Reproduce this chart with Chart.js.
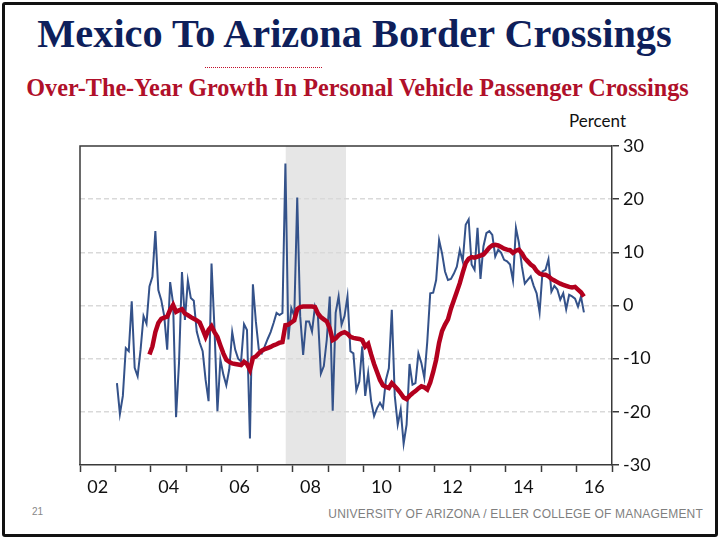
<!DOCTYPE html>
<html>
<head>
<meta charset="utf-8">
<script src="https://cdn.jsdelivr.net/npm/chart.js@4.4.1/dist/chart.umd.min.js"></script>
<style>
  body { margin: 0; background: #fff; }
  #slide { position: relative; width: 719px; height: 539px; overflow: hidden; background: #fff; }
  #frame { position: absolute; left: 2px; top: 2px; width: 710px; height: 529px; border: 3px solid #111; border-radius: 3px; }
  #title { position: absolute; left: -5px; width: 719px; top: 10px; text-align: center;
    font-family: "Liberation Serif", serif; font-weight: bold; font-size: 40.3px; color: #0e1f5b; }
  #rule { position: absolute; left: 205px; top: 67px; width: 117px; border-top: 1.5px dotted #c0102c; }
  #subtitle { position: absolute; left: -2px; width: 719px; top: 74px; text-align: center;
    font-family: "Liberation Serif", serif; font-weight: bold; font-size: 24.2px; color: #b0102a; }
  #unit { position: absolute; left: 569px; top: 110px; font-family: Lato, sans-serif; font-size: 17px; color: #111; }
  #page { position: absolute; left: 32px; top: 506px; font-family: "Liberation Sans", sans-serif; font-size: 10px; color: #888; }
  #footer { position: absolute; right: 16px; top: 507px; font-family: "Liberation Sans", sans-serif; font-size: 12px;
    letter-spacing: 0.2px; color: #7f7f7f; }
  #box { position: absolute; left: 0; top: 120px; }
</style>
</head>
<body>
<div id="slide">
  <div id="frame"></div>
  <div id="title">Mexico To Arizona Border Crossings</div>
  <div id="rule"></div>
  <div id="subtitle">Over-The-Year Growth In Personal Vehicle Passenger Crossings</div>
  <div id="unit">Percent</div>
  <div id="box"><canvas id="grafico" width="719" height="385"></canvas></div>
  <div id="page">21</div>
  <div id="footer">UNIVERSITY OF ARIZONA / ELLER COLLEGE OF MANAGEMENT</div>
</div>
<script>
// monthly data, first value = Jan 2003
const startYear = 2003;

// over-the-year growth, monthly (percent)
const blueValues = [
  -14.6, -20.4, -17.0, -8.0, -8.6, 0.8, -11.7, -13.3, -8.3, -2.0, -3.4, 3.6,
  5.4, 14.0, 2.9, 1.0, -2.0, -8.3, 4.4, 0.4, -21.0, -10.8, 6.3, -2.7,
  4.7, 1.4, 0.9, -4.9, -7.0, -8.6, -14.0, -18.0, 7.9, -4.3, -19.9, -10.2,
  -13.0, -15.0, -12.0, -5.0, -8.3, -10.0, -10.5, -3.5, -4.6, -25.0, 4.0, -3.0,
  -8.3, -9.0, -7.7, -6.3, -5.0, -3.3, -1.4, -1.8, -1.4, 26.7, -6.4, -0.5,
  -2.0, 20.3, -2.0, -9.3, -3.0, -3.0, -4.9, -0.2, -2.0, -12.8, -11.4, -6.4,
  1.7, -19.8, -1.4, 1.7, -3.6, -2.0, 1.7, -8.6, -9.0, -16.0, -14.3, -7.7,
  -17.0, -12.7, -18.0, -20.8, -19.3, -18.3, -19.3, -14.0, -11.8, -0.8, -17.0, -22.4,
  -19.6, -26.0, -22.4, -11.0, -14.9, -14.6, -9.0, -10.8, -13.6, -6.8, 2.3, 2.4,
  4.8, 12.3, 9.8, 6.4, 4.8, 5.0, 6.0, 7.3, 10.4, 8.3, 15.2, 16.2,
  7.7, 6.7, 14.6, 5.0, 11.1, 13.6, 14.0, 13.3, 9.2, 10.5, 9.9, 8.6,
  8.3, 7.7, 4.7, 14.6, 11.8, 7.4, 4.1, 4.8, 5.5, 3.7, 2.3, -1.3,
  6.4, 6.7, 8.7, 2.6, 3.7, 3.0, 1.1, 2.3, -0.7, 2.0, 1.7, 1.3,
  -0.2, 1.7, -1.3
];

// 12-month moving average, starts Dec 2003
const redStart = 11;
const redValues = [
  -9.2,
  -7.7, -5.0, -3.3, -2.5, -2.3, -2.1, -0.8, 0.1, -1.2, -0.9, -0.7, -1.5,
  -1.8, -2.2, -2.5, -2.8, -3.2, -4.5, -5.9, -4.6, -3.9, -5.0, -5.9, -7.5,
  -9.0, -10.2, -10.6, -10.9, -11.0, -11.1, -11.2, -10.6, -11.0, -12.1, -9.9, -9.6,
  -9.0, -8.5, -8.2, -8.0, -7.8, -7.5, -7.3, -7.0, -6.9, -3.7, -3.6, -3.2,
  -2.8, -0.7, -0.3, -0.2, -0.2, -0.2, -0.2, -0.3, -1.5, -2.2, -2.6, -3.0,
  -4.3, -6.5, -6.2, -5.6, -5.2, -5.0, -5.3, -5.9, -6.1, -6.2, -6.3, -6.5,
  -7.7, -7.2, -9.2, -11.0, -12.5, -14.0, -15.0, -15.3, -15.5, -14.6, -15.2, -15.8,
  -16.5, -17.3, -17.6, -17.0, -16.5, -16.1, -15.6, -15.2, -15.4, -15.8, -14.5, -12.5,
  -10.2, -7.0, -4.8, -3.6, -2.6, -0.6, 1.0, 2.6, 4.2, 6.2, 8.0, 8.8,
  9.1, 9.0, 9.2, 9.4, 9.6, 10.2, 10.9, 11.3, 11.4, 11.3, 11.0, 10.7,
  10.5, 10.4, 9.9, 10.3, 10.5, 9.8, 8.9, 8.3, 7.7, 7.3, 6.5, 6.0,
  5.8, 5.8, 5.5, 5.0, 4.7, 4.4, 4.1, 3.9, 3.7, 3.5, 3.4, 3.5,
  3.0, 2.5, 1.7
];

// x axis labels (centred on the even years)
const labelYears = [2002, 2004, 2006, 2008, 2010, 2012, 2014, 2016];
const yearLabels = ['02', '04', '06', '08', '10', '12', '14', '16'];

// recession band (Dec 2007 - Jun 2009)
const recession = [2007.8, 2009.5];

const blueData = blueValues.map((v, i) => ({ x: startYear + (i + 0.5) / 12, y: v }));
const redData = redValues.map((v, j) => ({ x: startYear + (j + redStart + 0.5) / 12, y: v }));

// shading + left/top frame lines
const moldura = {
  id: 'moldura',
  beforeDraw(chart) {
    const { ctx, chartArea: a, scales } = chart;
    const x1 = scales.x.getPixelForValue(recession[0]);
    const x2 = scales.x.getPixelForValue(recession[1]);
    ctx.save();
    ctx.fillStyle = '#e6e6e6';
    ctx.fillRect(x1, a.top, x2 - x1, a.bottom - a.top);
    ctx.restore();
  },
  afterDraw(chart) {
    const { ctx, chartArea: a } = chart;
    ctx.save();
    ctx.strokeStyle = '#3a3a3a';
    ctx.lineWidth = 1.5;
    ctx.beginPath();
    ctx.moveTo(a.left, a.bottom);
    ctx.lineTo(a.left, a.top);
    ctx.lineTo(a.right, a.top);
    ctx.stroke();
    ctx.restore();
  }
};

new Chart(document.getElementById('grafico').getContext('2d'), {
  type: 'line',
  data: {
    datasets: [
      { data: redData, borderColor: '#b3001e', borderWidth: 4.5, pointRadius: 0, tension: 0, order: 0 },
      { data: blueData, borderColor: '#34528a', borderWidth: 2, pointRadius: 0, tension: 0, order: 1 }
    ]
  },
  options: {
    responsive: false,
    devicePixelRatio: 1,
    animation: false,
    layout: { padding: { left: 80, top: 26, right: 0, bottom: 0 } },
    plugins: { legend: { display: false }, tooltip: { enabled: false } },
    scales: {
      x: {
        type: 'linear',
        min: 2002,
        max: 2017,
        afterBuildTicks(scale) {
          const t = [];
          for (let y = 2002; y <= 2017; y++) {
            t.push({ value: y });
            if (labelYears.includes(y)) t.push({ value: y + 0.5 });
          }
          scale.ticks = t;
        },
        afterFit(scale) { scale.height = 40; },
        ticks: {
          autoSkip: false,
          maxRotation: 0,
          padding: 4,
          color: '#111',
          font: { family: 'Lato', size: 18 },
          callback: (v) => {
            const k = labelYears.indexOf(v - 0.5);
            return k >= 0 ? yearLabels[k] : '';
          }
        },
        grid: {
          drawOnChartArea: false,
          tickLength: 7,
          tickWidth: 1.5,
          tickColor: (c) => (c.tick && c.tick.value % 1 === 0 ? '#3a3a3a' : 'rgba(0,0,0,0)')
        },
        border: { display: true, color: '#3a3a3a', width: 1.5 }
      },
      y: {
        position: 'right',
        min: -30,
        max: 30,
        afterFit(scale) { scale.width = 107; },
        ticks: { stepSize: 10, padding: 4, color: '#111', font: { family: 'Lato', size: 18 } },
        grid: {
          color: (c) => (Math.abs(c.tick.value) === 30 ? 'rgba(0,0,0,0)' : '#d9d9d9'),
          lineWidth: 1.5,
          tickColor: '#3a3a3a',
          tickLength: 7,
          tickWidth: 1.5
        },
        border: { display: true, color: '#3a3a3a', width: 1.5, dash: [5, 3] }
      }
    }
  },
  plugins: [moldura]
});
</script>
</body>
</html>
